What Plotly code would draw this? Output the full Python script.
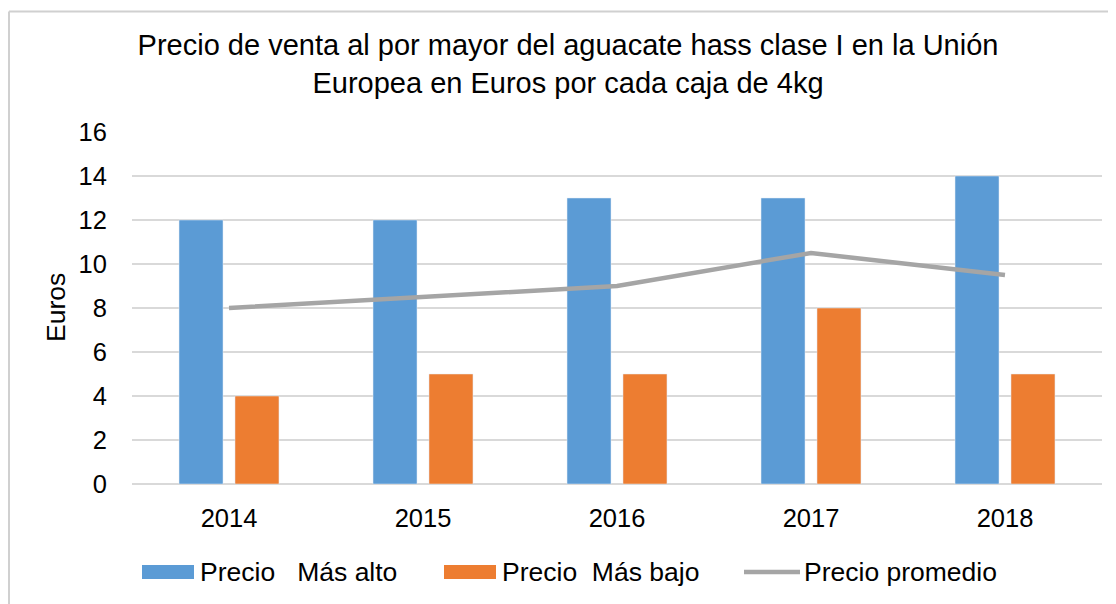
import plotly.graph_objects as go

years = ["2014", "2015", "2016", "2017", "2018"]
precio_alto = [12, 12, 13, 13, 14]
precio_bajo = [4, 5, 5, 8, 5]
precio_promedio = [8, 8.5, 9, 10.5, 9.5]
series_names = ["Precio   Más alto", "Precio  Más bajo", "Precio promedio"]
title_text = "Precio de venta al por mayor del aguacate hass clase I en la Unión<br>Europea en Euros por cada caja de 4kg"
y_title = "Euros"
y_ticks = [0, 2, 4, 6, 8, 10, 12, 14, 16]

BLUE = "#5B9BD5"
ORANGE = "#ED7D31"
GRAY = "#A5A5A5"
FONT = "Liberation Sans, Arial, sans-serif"

OFF = 8  # page body margin
W, H = 1116, 604
L, R, T, B = 132 - OFF, 1102 - OFF, 132 - OFF, 484 - OFF


def px_x(px):
    return (px - OFF - L) / (R - L)


def px_y(py):
    return (B - (py - OFF)) / (B - T)


fig = go.Figure()
fig.add_trace(go.Bar(x=years, y=precio_alto, name=series_names[0],
                     marker=dict(color=BLUE), showlegend=False))
fig.add_trace(go.Bar(x=years, y=precio_bajo, name=series_names[1],
                     marker=dict(color=ORANGE), showlegend=False))
fig.add_trace(go.Scatter(x=years, y=precio_promedio, name=series_names[2],
                         mode="lines", line=dict(color=GRAY, width=4.5),
                         showlegend=False))

shapes = [
    # chart border (top and left)
    dict(type="line", xref="paper", yref="paper", x0=px_x(9), x1=px_x(1124),
         y0=px_y(11.5), y1=px_y(11.5), line=dict(color="#D0D0D0", width=2)),
    dict(type="line", xref="paper", yref="paper", x0=px_x(9), x1=px_x(9),
         y0=px_y(11.5), y1=px_y(612), line=dict(color="#D0D0D0", width=2)),
]
annotations = []

# manual legend
legend_y = 572
leg = [(142, 194, BLUE, "rect", 198), (444, 496, ORANGE, "rect", 500),
       (744, 800, GRAY, "line", 802)]
for (x0, x1, col, kind, tx), name in zip(leg, series_names):
    if kind == "rect":
        shapes.append(dict(type="rect", xref="paper", yref="paper",
                           x0=px_x(x0), x1=px_x(x1), y0=px_y(legend_y - 7),
                           y1=px_y(legend_y + 7), fillcolor=col, line=dict(width=0)))
    else:
        shapes.append(dict(type="line", xref="paper", yref="paper",
                           x0=px_x(x0), x1=px_x(x1), y0=px_y(legend_y),
                           y1=px_y(legend_y), line=dict(color=col, width=4.5)))
    annotations.append(dict(text=name, xref="paper", yref="paper", x=px_x(tx),
                            y=px_y(legend_y), xanchor="left", yanchor="middle",
                            showarrow=False, font=dict(size=26.5, color="#000000", family=FONT)))

annotations.append(dict(text=y_title, xref="paper", yref="paper", x=px_x(56), y=0.5,
                        xanchor="center", yanchor="middle", textangle=-90,
                        showarrow=False, font=dict(size=26.5, color="#000000", family=FONT)))

fig.update_layout(
    width=W, height=H,
    margin=dict(l=L, r=W - R, t=T, b=H - B, pad=0),
    paper_bgcolor="white", plot_bgcolor="white",
    barmode="group", bargap=0.423, bargroupgap=0.214,
    font=dict(family=FONT, size=25.5, color="#000000"),
    title=dict(text=title_text, x=(568 - OFF) / W, xref="container", xanchor="center",
               y=1 - 47 / H, yanchor="top", yref="container",
               font=dict(size=29, color="#000000", family=FONT)),
    shapes=shapes, annotations=annotations,
    showlegend=False,
)
fig.update_xaxes(showgrid=False, showline=False, ticks="outside", ticklen=11,
                 tickcolor="rgba(0,0,0,0)", tickfont=dict(size=25.5), zeroline=False)
fig.update_yaxes(range=[0, 16], tickvals=y_ticks, showgrid=True, gridcolor="#D9D9D9",
                 gridwidth=1.5, zeroline=True, zerolinecolor="#D9D9D9", zerolinewidth=1.5,
                 showline=False, ticks="outside", ticklen=19, tickcolor="rgba(0,0,0,0)",
                 tickfont=dict(size=25.5))

fig.write_html("out.html")
